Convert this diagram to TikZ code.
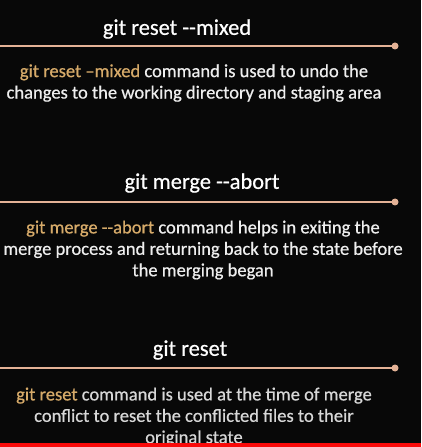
\documentclass[tikz,border=0pt]{standalone}
\usepackage{fontspec}
\setmainfont{Carlito}[FakeBold=0.6]
\definecolor{bg}{RGB}{8,8,8}
\definecolor{rule}{RGB}{228,178,150}
\definecolor{cmd}{RGB}{214,170,105}
\definecolor{txt}{RGB}{238,238,238}
\definecolor{txtb}{RGB}{215,215,215}
\definecolor{strip}{RGB}{250,10,10}
\tikzset{
  head/.style={text=white, font=\fontsize{22.5}{26}\selectfont, inner sep=0pt},
  para/.style={text=txt, font=\fontsize{18.6}{21.5}\selectfont, align=center, inner sep=0pt},
  rulebar/.style={draw=rule, line width=2bp},
  ruledot/.style={circle, fill=rule, minimum size=7bp, inner sep=0pt},
}
\newcommand{\cmdtxt}[1]{\textcolor{cmd}{#1}}
\begin{document}
\begin{tikzpicture}[x=1bp,y=-1bp]
\fill[bg] (0,0) rectangle (421,447);
\useasboundingbox (0,0) rectangle (421,447);
% section 1
\node[head] (h1) at (177,29) {git reset -{}-mixed};
\coordinate (r1s) at (0,46);
\node[ruledot] (d1) at (395,46) {};
\draw[rulebar] (r1s) -- (d1.center);
\node[para] (p1) at (194,83) {\cmdtxt{git reset –mixed} command is used to undo the\\changes to the working directory and staging area};
% section 2
\node[head] (h2) at (202,183) {git merge -{}-abort};
\coordinate (r2s) at (0,202);
\node[ruledot] (d2) at (395,202) {};
\draw[rulebar] (r2s) -- (d2.center);
\node[para] (p2) at (203,250) {\cmdtxt{git merge -{}-abort} command helps in exiting the\\merge process and returning back to the state before\\the merging began};
% section 3
\node[head] (h3) at (190,350) {git reset};
\coordinate (r3s) at (0,368);
\node[ruledot] (d3) at (395,368) {};
\draw[rulebar] (r3s) -- (d3.center);
\node[para, text=txtb] (p3) at (194,417) {\cmdtxt{git reset} command is used at the time of merge\\conflict to reset the conflicted files to their\\original state};
\fill[strip] (0,443) rectangle (421,447);
\end{tikzpicture}
\end{document}
